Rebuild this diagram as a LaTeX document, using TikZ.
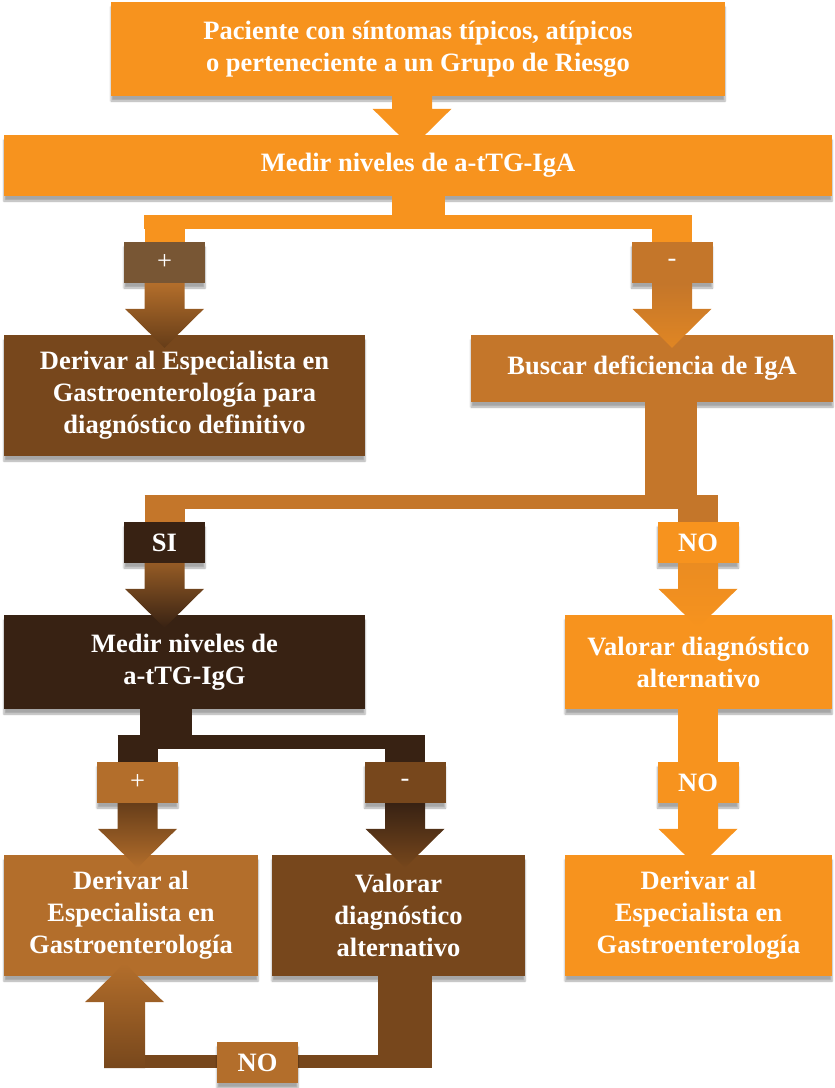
\documentclass[tikz,border=0pt]{standalone}
\usepackage{fontspec}
\setmainfont{Liberation Serif}
\usetikzlibrary{calc,shadows.blur}
\definecolor{naranja}{HTML}{F7931E}
\definecolor{tostado}{HTML}{C4762A}
\definecolor{medio}{HTML}{B36E2B}
\definecolor{cafe}{HTML}{77471C}
\definecolor{grisc}{HTML}{785634}
\definecolor{oscuro}{HTML}{382213}
% block arrow: from #1 down to the top of a box #2, shaded #3 -> #4
\newcommand{\flecha}[4]{%
  \shade[top color=#3,bottom color=#4] let \p1=#1, \p2=#2 in
    (\x1-20pt,\y1) -- (\x1+20pt,\y1) -- (\x1+20pt,\y2+26pt) -- (\x1+39.5pt,\y2+26pt)
    -- (\x1,\y2-13pt) -- (\x1-39.5pt,\y2+26pt) -- (\x1-20pt,\y2+26pt) -- cycle;}
\begin{document}
\begin{tikzpicture}
[x=1pt,y=-1pt,
  caja/.style={rectangle,inner sep=0pt,align=center,text=white,
    font=\bfseries\fontsize{26.5}{32}\selectfont,
    blur shadow={shadow xshift=0pt,shadow yshift=-5pt,shadow opacity=35}},
  etiqueta/.style={caja,minimum width=81pt,minimum height=41pt},
  signo/.style={etiqueta,font=\fontsize{26.5}{32}\selectfont}]
\useasboundingbox (0,0) rectangle (835,1088);
% boxes
\node (paciente) at (418,49) [caja,fill=naranja,minimum width=614pt,minimum height=94pt]
  {Paciente con síntomas típicos, atípicos\\o perteneciente a un Grupo de Riesgo};
\node (iga) at (418,165.5) [caja,fill=naranja,minimum width=828pt,minimum height=61pt]
  {Medir niveles de a-tTG-IgA};
\node (derivar1) at (184.5,395.5) [caja,fill=cafe,minimum width=361pt,minimum height=121pt]
  {Derivar al Especialista en\\Gastroenterología para\\diagnóstico definitivo};
\node (buscar) at (652,368.5) [caja,fill=tostado,minimum width=362pt,minimum height=67pt]
  {Buscar deficiencia de IgA};
\node (igg) at (184.5,662) [caja,fill=oscuro,minimum width=361pt,minimum height=94pt]
  {Medir niveles de\\a-tTG-IgG};
\node (valor1) at (698.5,662) [caja,fill=naranja,minimum width=267pt,minimum height=94pt]
  {Valorar diagnóstico\\alternativo};
\node (derivar2) at (131,915.5) [caja,fill=medio,minimum width=254pt,minimum height=121pt]
  {Derivar al\\Especialista en\\Gastroenterología};
\node (valor2) at (398.5,915.5) [caja,fill=cafe,minimum width=253pt,minimum height=121pt]
  {Valorar\\diagnóstico\\alternativo};
\node (derivar3) at (698.5,915.5) [caja,fill=naranja,minimum width=267pt,minimum height=121pt]
  {Derivar al\\Especialista en\\Gastroenterología};
% branch labels
\node (masA) at (164.5,262.5) [signo,fill=grisc] {+};
\node (menosA) at (672,262.5) [signo,fill=tostado] {-};
\node (si) at (164.5,542.5) [etiqueta,fill=oscuro] {SI};
\node (noA) at (698,542.5) [etiqueta,fill=naranja] {NO};
\node (masB) at (137.5,782.5) [signo,fill=medio] {+};
\node (menosB) at (405,782.5) [signo,fill=cafe] {-};
\node (noB) at (698,782.5) [etiqueta,fill=naranja] {NO};
% first fork
\draw[naranja,line width=53pt] (iga.south) -- ++(0,20);
\draw[naranja,line width=14pt] ($(masA.north)+(-20.5,-20)$) -- ($(menosA.north)+(20,-20)$);
\draw[naranja,line width=40pt] (masA.north) -- ++(0,-27);
\draw[naranja,line width=40pt] (menosA.north) -- ++(0,-27);
% second fork
\draw[tostado,line width=52pt] ($(buscar.south)+(19,0)$) -- ++(0,100);
\draw[tostado,line width=14pt] ($(si.north)+(-20,-20)$) -- ($(noA.north)+(19.5,-20)$);
\draw[tostado,line width=40pt] (si.north) -- ++(0,-27);
\draw[tostado,line width=40pt] (noA.north) -- ++(0,-27);
% third fork
\draw[oscuro,line width=52pt] ($(igg.south)+(-18.5,0)$) -- ++(0,30);
\draw[oscuro,line width=14pt] ($(masB.north)+(-20,-20)$) -- ($(menosB.north)+(20,-20)$);
\draw[oscuro,line width=40pt] (masB.north) -- ++(0,-27);
\draw[oscuro,line width=40pt] (menosB.north) -- ++(0,-27);
\draw[naranja,line width=40pt] (valor1.south -| noB.north) -- (noB.north);
% arrows
\flecha{($(paciente.south)+(-6,0)$)}{(iga.north)}{naranja}{naranja}
\flecha{(masA.south)}{(derivar1.north)}{medio}{cafe!85!black}
\flecha{(menosA.south)}{(buscar.north)}{tostado}{naranja!55!tostado}
\flecha{(si.south)}{(igg.north)}{medio!75!oscuro}{oscuro}
\flecha{(noA.south)}{(valor1.north)}{naranja!75!tostado}{naranja}
\flecha{(masB.south)}{(derivar2.north)}{cafe!75!oscuro}{medio}
\flecha{(menosB.south)}{(valor2.north)}{oscuro}{cafe}
\flecha{(noB.south)}{(derivar3.north)}{naranja}{naranja}
% loop back
\draw[cafe,line width=54pt] ($(valor2.south)+(6.5,0)$) -- ++(0,92);
\draw[cafe,line width=13pt] ($(derivar2.south)+(-27,85.5)$) -- ($(valor2.south)+(33.5,85.5)$);
\shade[top color=medio,bottom color=cafe]
  let \p1=($(derivar2.south)+(-6.5,92)$), \p2=(derivar2.south) in
  (\x1-20.5pt,\y1) -- (\x1+20.5pt,\y1) -- (\x1+20.5pt,\y2-26pt) -- (\x1+39.5pt,\y2-26pt)
  -- (\x1,\y2+13pt) -- (\x1-39.5pt,\y2-26pt) -- (\x1-20.5pt,\y2-26pt) -- cycle;
\node (noC) at (257.5,1062.5) [etiqueta,fill=medio] {NO};
\end{tikzpicture}
\end{document}
